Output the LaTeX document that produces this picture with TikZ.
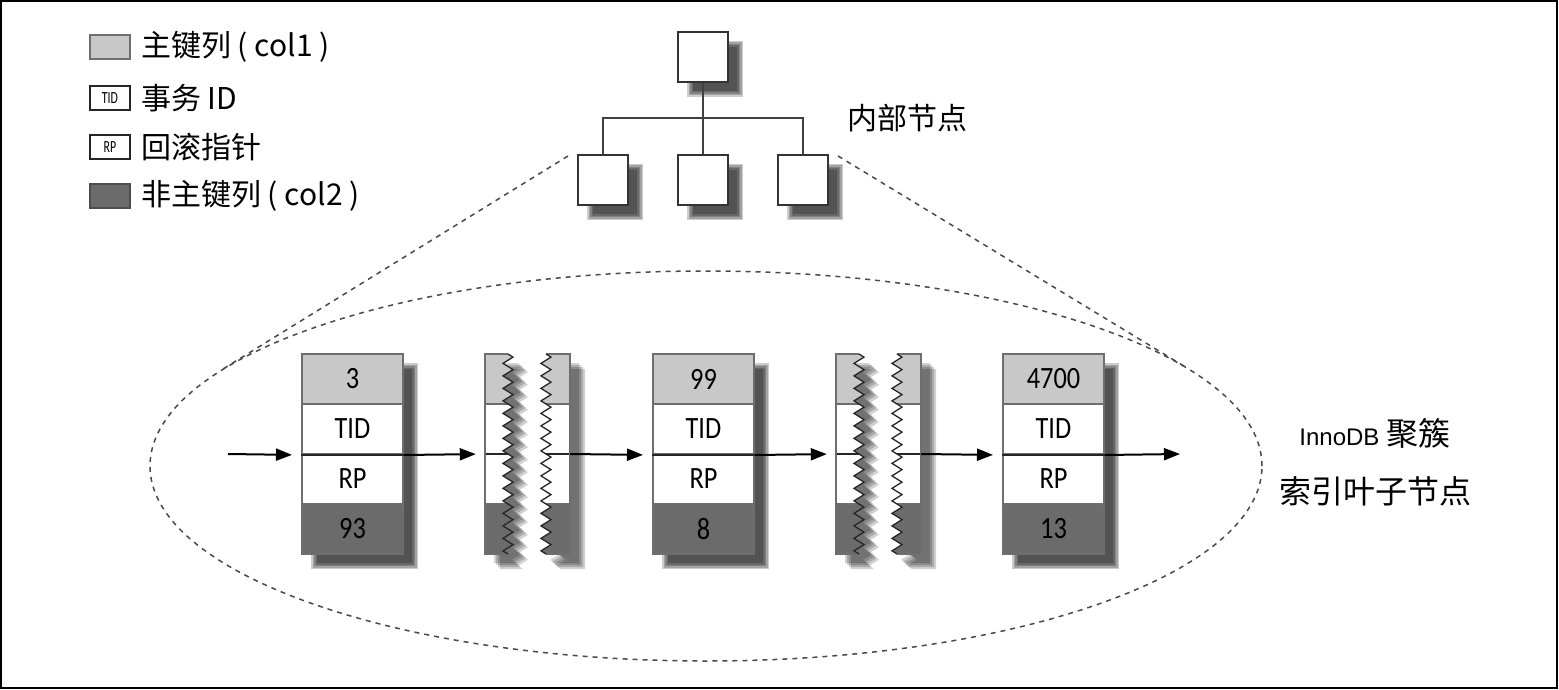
\documentclass[tikz,border=0pt]{standalone}
\usepackage{fontspec}
\setmainfont{Noto Sans CJK SC}
\newfontfamily\cjkf{Noto Sans CJK SC}
\newfontfamily\condf[FakeStretch=0.85]{Carlito}
\newfontfamily\tinyf[FakeStretch=0.7]{Carlito}
\newfontfamily\latf{Liberation Sans}
\usetikzlibrary{arrows.meta,decorations.pathmorphing,calc}
\definecolor{lightg}{HTML}{C8C8C8}
\definecolor{darkg}{HTML}{6B6B6B}
\definecolor{bordg}{HTML}{6E6E6E}
\definecolor{dashg}{HTML}{4A4A4A}

\tikzset{
  zz/.style={decoration={zigzag,segment length=12.5pt,amplitude=5pt}},
  rowsep/.style={draw=bordg,line width=2pt},
  arrline/.style={draw=black!85,line width=2pt},
  bordline/.style={draw=bordg,line width=2pt},
  zzline/.style={draw=black!85,line width=1.3pt},
  tbox/.style={draw=black!80,line width=2pt,fill=white,minimum width=50pt,minimum height=50pt,inner sep=0pt},
  treeline/.style={draw=black!75,line width=2pt},
  rowbox/.style={draw=bordg,line width=2pt,minimum width=101pt,minimum height=50pt,inner sep=0pt,font=\condf\fontsize{31}{31}\selectfont},
  lrow/.style={rowbox,fill=lightg},
  wrow/.style={rowbox,fill=white},
  drow/.style={rowbox,fill=darkg},
  piece/.style={minimum width=85pt,minimum height=200pt,inner sep=0pt},
  arr/.style={draw=black,line width=2pt,-{Triangle[length=16pt,width=12pt]},shorten >=9pt},
  dashln/.style={draw=dashg,line width=1.5pt,dash pattern=on 5pt off 5pt},
  swatch/.style={draw=bordg,line width=2pt,minimum width=40pt,minimum height=24pt,inner sep=0pt},
  lblswatch/.style={swatch,draw=black!85,fill=white,font=\tinyf\fontsize{17}{17}\selectfont},
  legtext/.style={anchor=west,inner sep=0pt,font=\cjkf\fontsize{30}{30}\selectfont},
  bigtext/.style={inner sep=0pt,font=\cjkf\fontsize{30}{30}\selectfont},
  sidetext/.style={inner sep=0pt,font=\cjkf\fontsize{32}{32}\selectfont},
}

\newcommand\shadowrect[4]{%
  \foreach \sh in {-3,-1.5,0,1.5,3}{%
    \fill[black,opacity=0.2] ({#1+12-\sh},{#2+12-\sh}) rectangle ({#3+12+\sh},{#4+12+\sh});
  }}

\newcommand\brokenpiece[1]{%
 \begin{scope}[shift={(#1,0)}]
  \foreach \sh in {9,11,13,15}{%
   \begin{scope}[shift={(\sh,\sh)}]
    \fill[black,opacity=0.18] (0,354) -- (23,354) decorate[zz]{-- (23,554)} -- (0,554) -- cycle;
    \fill[black,opacity=0.18] (85,354) -- (61,354) decorate[zz]{-- (61,554)} -- (85,554) -- cycle;
   \end{scope}}
  \begin{scope}
   \clip (0,354) -- (23,354) decorate[zz]{-- (23,554)} -- (0,554) -- cycle;
   \fill[lightg] (-5,354) rectangle (40,404);
   \fill[white] (-5,404) rectangle (40,504);
   \fill[darkg] (-5,504) rectangle (40,554);
   \draw[rowsep] (-5,404) -- (40,404) (-5,504) -- (40,504);
   \draw[arrline] (-5,454) -- (40,454);
  \end{scope}
  \begin{scope}
   \clip (85,354) -- (61,354) decorate[zz]{-- (61,554)} -- (85,554) -- cycle;
   \fill[lightg] (45,354) rectangle (90,404);
   \fill[white] (45,404) rectangle (90,504);
   \fill[darkg] (45,504) rectangle (90,554);
   \draw[rowsep] (45,404) -- (90,404) (45,504) -- (90,504);
   \draw[arrline] (45,454) -- (90,454);
  \end{scope}
  \draw[bordline] (23,354) -- (0,354) -- (0,554) -- (23,554);
  \draw[bordline] (61,354) -- (85,354) -- (85,554) -- (61,554);
  \draw[zzline] (23,354) decorate[zz]{-- (23,554)};
  \draw[zzline] (61,354) decorate[zz]{-- (61,554)};
 \end{scope}}

\newcommand\leafpage[4]{% #1 name prefix, #2 center x, #3 top label, #4 bottom label
  \shadowrect{#2-50.5}{354}{#2+50.5}{554}
  \node[lrow] (#1a) at (#2,379) {#3};
  \node[wrow] (#1b) at (#2,429) {TID};
  \node[wrow] (#1c) at (#2,479) {RP};
  \node[drow] (#1d) at (#2,529) {#4};
  \draw[arrline] (#1b.south west) -- (#1b.south east);
}

\begin{document}
\begin{tikzpicture}[x=1pt,y=-1pt]
\useasboundingbox (0,0) rectangle (1559,690);
\fill[white] (0,0) rectangle (1559,690);
\draw[line width=2pt,black] (1,1) rectangle (1557,688);

% legend
\node[swatch,fill=lightg] (lg1) at (110,47) {};
\node[legtext] (lt1) at (141,47) {主键列 ( col1 )};
\node[lblswatch] (lg2) at (110,98) {TID};
\node[legtext] (lt2) at (141,98) {事务 ID};
\node[lblswatch] (lg3) at (110,147) {RP};
\node[legtext] (lt3) at (141,147) {回滚指针};
\node[swatch,draw=black!70,fill=darkg] (lg4) at (110,196) {};
\node[legtext] (lt4) at (141,196) {非主键列 ( col2 )};

% tree of internal nodes
\shadowrect{678}{32}{728}{82}
\shadowrect{578}{155}{628}{205}
\shadowrect{678}{155}{728}{205}
\shadowrect{778}{155}{828}{205}
\node[tbox] (root) at (703,57) {};
\node[tbox] (c1) at (603,180) {};
\node[tbox] (c2) at (703,180) {};
\node[tbox] (c3) at (803,180) {};
\coordinate (bar) at (703,118);
\draw[treeline] (root.south) -- (bar);
\draw[treeline] (c1.north) |- (bar) -| (c3.north);
\draw[treeline] (c2.north) -- (bar);
\node[bigtext] (inner) at (907,118) {内部节点};

% zoom ellipse and tangent lines
\coordinate (tl) at (223,369);
\coordinate (tr) at (1187,368);
\draw[dashln] ([shift={(-9,2)}]c1.north west) -- (tl);
\draw[dashln] ([shift={(9,2)}]c3.north east) -- (tr);
\draw[dashln] (706,466) ellipse [x radius=556pt, y radius=195pt];

% leaf pages
\leafpage{b1}{352.5}{3}{93}
\leafpage{b2}{703.5}{99}{8}
\leafpage{b3}{1053.5}{4700}{13}
\brokenpiece{485}
\brokenpiece{836}
\node[piece] (p1) at (527.5,454) {};
\node[piece] (p2) at (878.5,454) {};

% arrows
\coordinate (a0) at (228,454);
\coordinate (a6) at (1180,454);
\draw[arr] (a0) -- (b1b.south west);
\draw[arr] (b1b.south east) -- (p1.west);
\draw[arr] (p1.east) -- (b2b.south west);
\draw[arr] (b2b.south east) -- (p2.west);
\draw[arr] (p2.east) -- (b3b.south west);
\draw[arr,shorten >=0pt] (b3b.south east) -- (a6);

\node[sidetext] (t1) at (1375,433) {{\latf\fontsize{24}{24}\selectfont InnoDB} 聚簇};
\node[sidetext] (t2) at (1375,491) {索引叶子节点};
\end{tikzpicture}
\end{document}
